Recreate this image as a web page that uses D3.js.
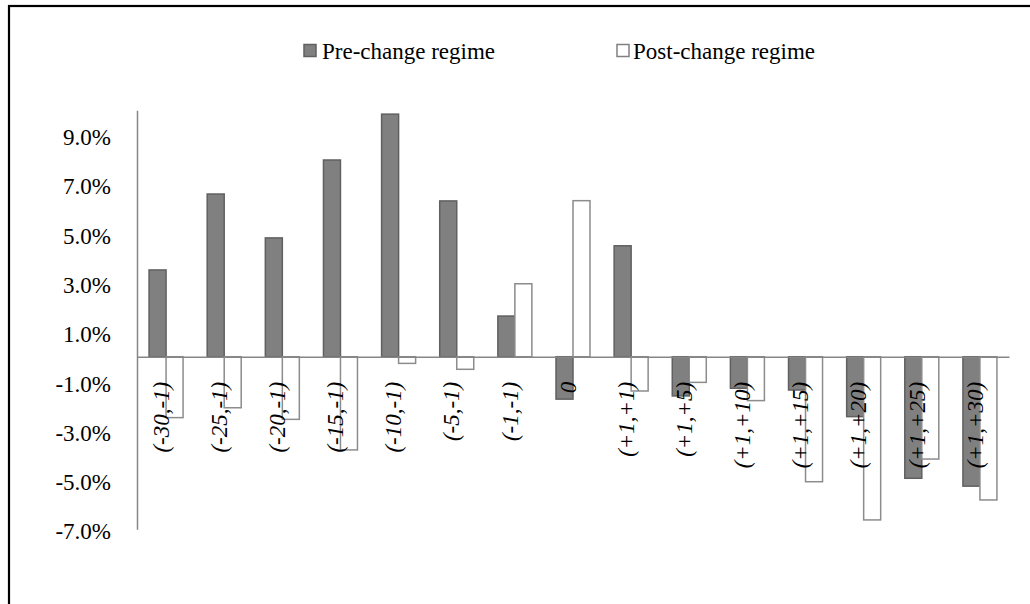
<!DOCTYPE html>
<html>
<head>
<meta charset="utf-8">
<script src="https://cdn.jsdelivr.net/npm/d3@7"></script>
<style>
  html, body { margin: 0; padding: 0; background: #fff; }
  svg { display: block; }
  text { font-family: "Liberation Serif", "Times New Roman", serif; fill: #000; }
</style>
</head>
<body>
<svg id="chart" width="1030" height="604"></svg>
<script>
const categories = ["(-30,-1)", "(-25,-1)", "(-20,-1)", "(-15,-1)", "(-10,-1)", "(-5,-1)", "(-1,-1)", "0",
  "(+1,+1)", "(+1,+5)", "(+1,+10)", "(+1,+15)", "(+1,+20)", "(+1,+25)", "(+1,+30)"];
const preChange  = [3.52, 6.60, 4.82, 7.98, 9.84, 6.32, 1.65, -1.72, 4.50, -1.59, -1.28, -1.35, -2.43, -4.93, -5.25];
const postChange = [-2.47, -2.07, -2.54, -3.78, -0.27, -0.51, 2.96, 6.33, -1.39, -1.04, -1.78, -5.07, -6.62, -4.15, -5.81];
const seriesNames = ["Pre-change regime", "Post-change regime"];
const yTicks = [-7, -5, -3, -1, 1, 3, 5, 7, 9];
const yDomain = [-7, 10];

const svg = d3.select("#chart");

// outer frame
svg.append("rect").attr("x", 9).attr("y", 6).attr("width", 1040).attr("height", 620)
  .attr("fill", "none").attr("stroke", "#000").attr("stroke-width", 2.2);

const plot = { left: 137, right: 1009, top: 110.2, bottom: 529.3 };

const x = d3.scaleBand().domain(categories).range([plot.left, plot.right]).padding(0);
const y = d3.scaleLinear().domain(yDomain).range([plot.bottom, plot.top]);
const barW = x.bandwidth() * 0.2925;
const fmt = d => (d < 0 ? "-" : "") + Math.abs(d).toFixed(1) + "%";

// y axis
const yAxis = d3.axisLeft(y).tickValues(yTicks).tickSize(0).tickPadding(26).tickFormat(fmt);
const gy = svg.append("g").attr("transform", `translate(${plot.left},0)`).call(yAxis);
gy.attr("font-family", "Liberation Serif, Times New Roman, serif");
gy.select(".domain").attr("stroke", "#868686").attr("stroke-width", 1.5);
gy.selectAll("text").attr("font-size", 23).attr("dy", "0.42em");

// bars
const gPre = svg.append("g");
gPre.selectAll("rect").data(preChange).join("rect")
  .attr("x", (d, i) => x(categories[i]) + x.bandwidth() / 2 - barW)
  .attr("y", d => Math.min(y(d), y(0)))
  .attr("width", barW)
  .attr("height", d => Math.abs(y(d) - y(0)))
  .attr("fill", "#808080").attr("stroke", "#606060").attr("stroke-width", 1.5);

const gPost = svg.append("g");
gPost.selectAll("rect").data(postChange).join("rect")
  .attr("x", (d, i) => x(categories[i]) + x.bandwidth() / 2)
  .attr("y", d => Math.min(y(d), y(0)))
  .attr("width", barW)
  .attr("height", d => Math.abs(y(d) - y(0)))
  .attr("fill", "#fff").attr("stroke", "#8c8c8c").attr("stroke-width", 1.5);

// x axis (zero line)
const xAxis = d3.axisBottom(x).tickSize(0).tickFormat(d => d);
const gx = svg.append("g").attr("transform", `translate(0,${y(0)})`).call(xAxis);
gx.attr("font-family", "Liberation Serif, Times New Roman, serif");
gx.select(".domain").attr("stroke", "#868686").attr("stroke-width", 1.5);
gx.selectAll(".tick text")
  .attr("font-size", 23).attr("font-style", "italic")
  .attr("text-anchor", "end")
  .attr("transform", "translate(0,25) rotate(-90)")
  .attr("x", 0).attr("y", 0).attr("dy", "0.12em");

// legend
const legend = [
  { name: seriesNames[0], sx: 304, tx: 322, fill: "#808080", stroke: "#606060" },
  { name: seriesNames[1], sx: 617, tx: 633, fill: "#fff", stroke: "#808080" }
];
const lg = svg.append("g");
legend.forEach(l => {
  lg.append("rect").attr("x", l.sx).attr("y", 44.5).attr("width", 12).attr("height", 12)
    .attr("fill", l.fill).attr("stroke", l.stroke).attr("stroke-width", 1.5);
  lg.append("text").attr("x", l.tx).attr("y", 59).attr("font-size", 23).text(l.name);
});
</script>
</body>
</html>
